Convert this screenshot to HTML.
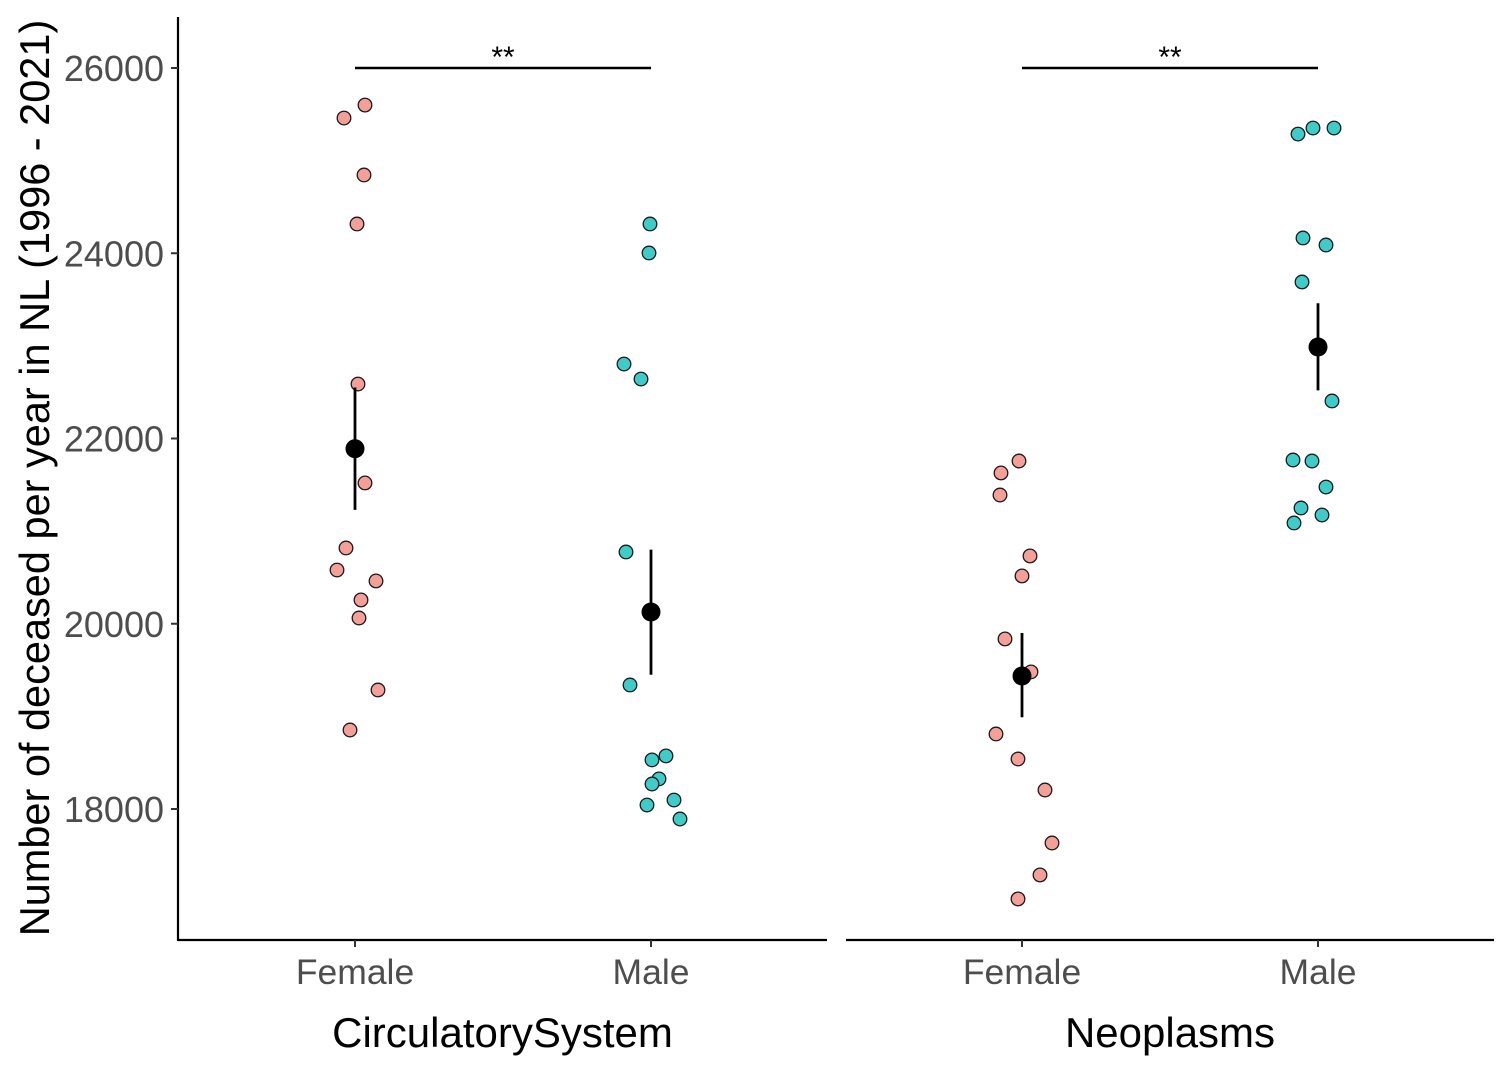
<!DOCTYPE html>
<html><head><meta charset="utf-8"><style>
body{margin:0;background:#fff}
svg{display:block;font-family:"Liberation Sans",Arial,sans-serif}
</style></head><body>
<svg id="chart" width="1512" height="1080" xmlns="http://www.w3.org/2000/svg"></svg>
<script>
const panels=["CirculatorySystem","Neoplasms"];
const groups=["Female","Male"];
const yTicks=[18000,20000,22000,24000,26000];
const circFemale=[25600,25460,24845,24316,22588,21520,20818,20580,20462,20257,20062,19285,18853];
const circFemaleJitter=[10,-11,9,2,3,10,-9,-18,21,6,4,23,-5];
const circMale=[24316,24003,22804,22642,20775,19339,18573,18530,18325,18270,18097,18043,17892];
const circMaleJitter=[-1,-2,-27,-10,-25,-21,15,1,8,1,23,-4,29];
const neoFemale=[21757,21628,21390,20732,20516,19836,19480,18810,18540,18205,17633,17288,17029];
const neoFemaleJitter=[-3,-21,-22,8,0,-17,9,-26,-4,23,30,18,-4];
const neoMale=[25287,25352,25352,24165,24089,23690,22405,21768,21757,21476,21250,21174,21088];
const neoMaleJitter=[-20,-5,16,-15,8,-16,14,-25,-6,8,-17,4,-24];
const means=[[21890,20127],[19436,22988]];
const lowers=[[21230,19450],[18990,22520]];
const uppers=[[22550,20800],[19900,23460]];
const sigLabels=["**","**"];
const sigY=26000;

const svg=document.getElementById('chart');
const NS="http://www.w3.org/2000/svg";
function el(t,a,p){const e=document.createElementNS(NS,t);for(const k in a)e.setAttribute(k,a[k]);(p||svg).appendChild(e);return e;}
function y(v){return 68+(26000-v)/2000*185.25;}
const panelX=[[178,827],[846,1494]];
const groupX=[[355,651],[1022,1318]];
const series=[[circFemale,circMale],[neoFemale,neoMale]];
const jit=[[circFemaleJitter,circMaleJitter],[neoFemaleJitter,neoMaleJitter]];
const fills=["#F59F99","#3FCCC8"];

const yAxis=el('line',{x1:178,y1:17,x2:178,y2:941,stroke:'#000','stroke-width':2.2});


yTicks.forEach(t=>{
  const tk=el('line',{x1:171,x2:178,y1:y(t),y2:y(t),stroke:'#333','stroke-width':2});
  
  
  const tx=el('text',{x:164,y:y(t)+13,'text-anchor':'end','font-size':36,fill:'#4d4d4d'});
  tx.textContent=t;
  
  
});
const yt=el('text',{x:0,y:0,'text-anchor':'middle','font-size':41.5,fill:'#000',transform:'translate(49,478) rotate(-90)'});
yt.textContent="Number of deceased per year in NL (1996 - 2021)";



panels.forEach((p,pi)=>{
  const ax=el('line',{x1:panelX[pi][0],x2:panelX[pi][1],y1:940,y2:940,stroke:'#000','stroke-width':2.2});
  
  
  groups.forEach((g,gi)=>{
    const gx=groupX[pi][gi];
    const tk=el('line',{x1:gx,x2:gx,y1:940,y2:947,stroke:'#333','stroke-width':2});
    
    
    const tl=el('text',{x:gx,y:984,'text-anchor':'middle','font-size':35.5,fill:'#4d4d4d'});
    tl.textContent=g;
    
    
    series[pi][gi].forEach((v,i)=>{
      const c=el('circle',{cx:gx+jit[pi][gi][i],cy:y(v),r:6.8,fill:fills[gi],stroke:'#1a1a1a','stroke-width':1.3});
      
      
    });
    const eb=el('line',{x1:gx,x2:gx,y1:y(uppers[pi][gi]),y2:y(lowers[pi][gi]),stroke:'#000','stroke-width':2.8});
    
    
    const m=el('circle',{cx:gx,cy:y(means[pi][gi]),r:9.5,fill:'#000'});
    
    
  });
  const sb=el('line',{x1:groupX[pi][0],x2:groupX[pi][1],y1:y(sigY),y2:y(sigY),stroke:'#000','stroke-width':2.4});
  
  
  const st=el('text',{x:(groupX[pi][0]+groupX[pi][1])/2,y:y(sigY)-1,'text-anchor':'middle','font-size':30,fill:'#000'});
  st.textContent=sigLabels[pi];
  
  
  const ft=el('text',{x:(panelX[pi][0]+panelX[pi][1])/2,y:1047,'text-anchor':'middle','font-size':42,fill:'#000'});
  ft.textContent=p;
  
  
});
</script>
</body></html>
